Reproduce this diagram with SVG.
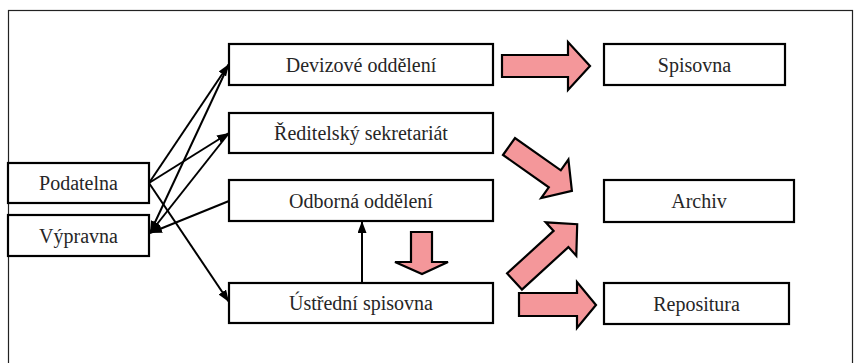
<svg xmlns="http://www.w3.org/2000/svg" width="854" height="363" viewBox="0 0 854 363">
<defs>
<style>
.box{fill:#fff;stroke:#000;stroke-width:2.2}
.lbl{font-family:'Liberation Serif','DejaVu Serif','Times New Roman',serif;font-size:20px;fill:#262626;text-anchor:middle}
.ln{stroke:#000;stroke-width:2;fill:none;marker-end:url(#ah)}
.blk{fill:#F4979A;stroke:#000;stroke-width:2.2;stroke-linejoin:miter}
</style>
<marker id="ah" markerUnits="userSpaceOnUse" markerWidth="13" markerHeight="10" refX="12" refY="4.5" orient="auto">
<path d="M0,0 L12,4.5 L0,9 Z" fill="#000"/>
</marker>
</defs>
<rect width="854" height="363" fill="#fff"/>
<rect x="8.5" y="10.5" width="844" height="360" fill="none" stroke="#222" stroke-width="1.2"/>
<g id="connectors">
<line class="ln" x1="149" y1="183" x2="229" y2="64"/>
<line class="ln" x1="149" y1="183" x2="229" y2="133"/>
<line class="ln" x1="149" y1="183" x2="229" y2="302"/>
<line class="ln" x1="229" y1="64" x2="150" y2="233"/>
<line class="ln" x1="229" y1="133" x2="150" y2="233"/>
<line class="ln" x1="229" y1="201" x2="150" y2="233"/>
<line class="ln" x1="362" y1="283" x2="362" y2="221"/>
<polygon class="blk" points="502,55 568,55 568,42 590,66 568,90 568,77 502,77"/>
<polygon class="blk" points="503,155 515,138 560.8,170.3 568.4,159.6 571.9,190.9 541.2,198 548.8,187.3"/>
<polygon class="blk" points="521.9,289.6 507.1,273.4 553.6,230.9 545.7,222.3 577.2,224.2 576.3,255.7 568.4,247.1"/>
<polygon class="blk" points="519,293 577,293 577,282 596,305 577,328 577,316 519,316"/>
<polygon class="blk" points="411,232 432,232 432,262 448,262 422,274 395,262 411,262"/>
</g>
<g font-family="Liberation Serif, serif">
<g id="podatelna"><rect class="box" x="8" y="163" width="141" height="40"/><text class="lbl" x="78.5" y="190">Podatelna</text></g>
<g id="vypravna"><rect class="box" x="8" y="215" width="141" height="41"/><text class="lbl" x="78.5" y="243">Výpravna</text></g>
<g id="devizove"><rect class="box" x="229" y="44" width="264" height="41"/><text class="lbl" x="361" y="72">Devizové oddělení</text></g>
<g id="reditelsky"><rect class="box" x="229" y="113" width="264" height="40"/><text class="lbl" x="361" y="140">Ředitelský sekretariát</text></g>
<g id="odborna"><rect class="box" x="229" y="180" width="264" height="41"/><text class="lbl" x="361" y="208">Odborná oddělení</text></g>
<g id="ustredni"><rect class="box" x="229" y="283" width="264" height="40"/><text class="lbl" x="361" y="310">Ústřední spisovna</text></g>
<g id="spisovna"><rect class="box" x="604" y="44" width="181" height="41"/><text class="lbl" x="694.5" y="72">Spisovna</text></g>
<g id="archiv"><rect class="box" x="604" y="180" width="190" height="42"/><text class="lbl" x="699" y="208">Archiv</text></g>
<g id="repositura"><rect class="box" x="604" y="283" width="185" height="41"/><text class="lbl" x="696.5" y="311">Repositura</text></g>
</g>
</svg>
